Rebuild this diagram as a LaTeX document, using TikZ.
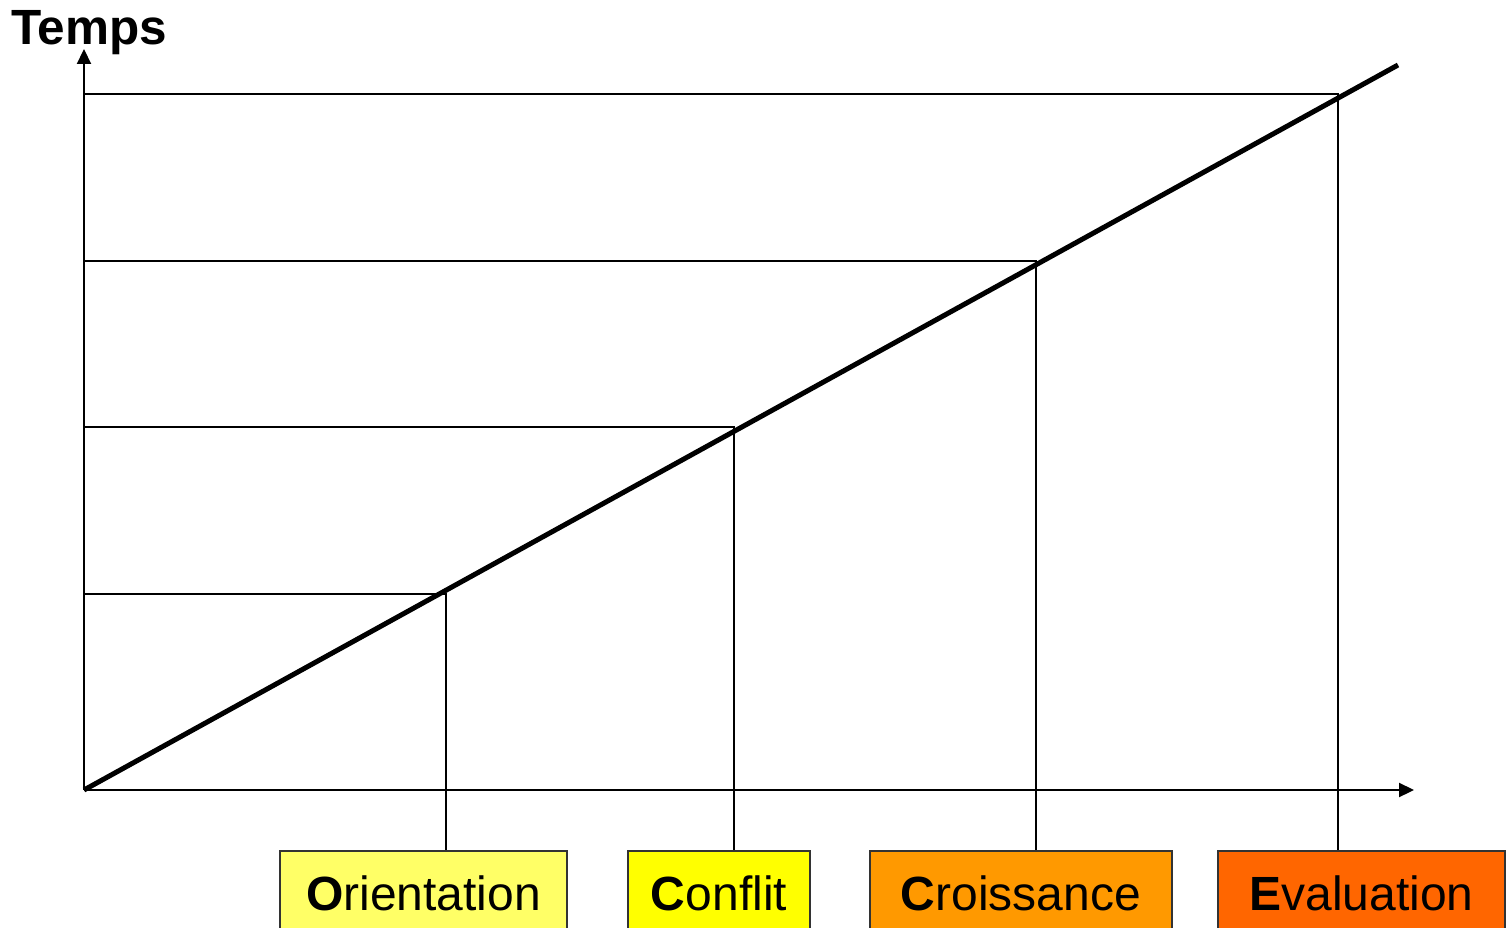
\documentclass[tikz,border=0pt]{standalone}
\usepackage{fontspec}
\setmainfont{Liberation Sans}
\usetikzlibrary{arrows.meta}
\definecolor{cOri}{HTML}{FFFF66}
\definecolor{cCon}{HTML}{FFFF00}
\definecolor{cCro}{HTML}{FF9900}
\definecolor{cEva}{HTML}{FF6600}
\definecolor{cBord}{HTML}{333333}
\tikzset{
  axis/.style={line width=2.2pt, -{Triangle[length=15pt,width=14pt]}},
  thinline/.style={line width=1.8pt},
  diag/.style={line width=5pt},
  phasebox/.style={draw=cBord, line width=1.8pt, anchor=north, minimum height=84pt,
    inner sep=0pt, text height=34.5pt, text depth=0pt,
    font=\fontsize{48}{56}\selectfont},
}
\begin{document}
\begin{tikzpicture}[x=1pt,y=-1pt]
\useasboundingbox (0,0) rectangle (1510,928);
\clip (0,0) rectangle (1510,928);
\fill[white] (0,0) rectangle (1510,928);
\node[anchor=base west, inner sep=0pt, font=\fontsize{49.5}{56}\selectfont\bfseries] (temps) at (11,45) {Temps};
\coordinate (O) at (84,790);
\coordinate (ytop) at (84,49);
\coordinate (xend) at (1414,790);
\coordinate (dend) at (1398,65);
\coordinate (p1) at (446,594);
\coordinate (p2) at (734,427);
\coordinate (p3) at (1036,261);
\coordinate (p4) at (1338,94);
\node[phasebox, fill=cOri, minimum width=287pt] (b1) at (423.5,850) {\textbf{O}rientation};
\node[phasebox, fill=cCon, minimum width=182pt] (b2) at (719,850) {\textbf{C}onflit};
\node[phasebox, fill=cCro, minimum width=302pt] (b3) at (1021,850) {\textbf{C}roissance};
\node[phasebox, fill=cEva, minimum width=287pt] (b4) at (1361.5,850) {\textbf{E}valuation};
\draw[axis] (O) -- (ytop);
\draw[axis] (O) -- (xend);
\foreach \p/\b in {p1/b1,p2/b2,p3/b3,p4/b4}{
  \draw[thinline] (O |- \p) -- (\p) -- (\p |- \b.north);
}
\draw[diag] (O) -- (dend);
\end{tikzpicture}
\end{document}
